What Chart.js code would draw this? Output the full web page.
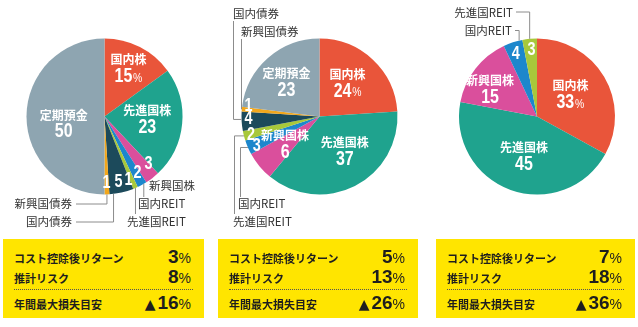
<!DOCTYPE html>
<html lang="ja">
<head>
<meta charset="utf-8">
<script src="https://cdn.jsdelivr.net/npm/chart.js@4.4.1/dist/chart.umd.min.js"></script>
<style>
    html, body { margin: 0; padding: 0; background: #fff; }
    #stage { position: relative; width: 638px; height: 327px; overflow: hidden; }
    #stage canvas { position: absolute; left: 0; top: 0; }
    .box { position: absolute; top: 239px; height: 79px; background: #ffe500; color: #1e1e1e;
           font-family: "Noto Sans CJK JP", sans-serif; }
    .row { position: absolute; left: 11px; right: 13px; height: 22px; display: flex;
           justify-content: space-between; align-items: baseline; }
    .row .lbl { font-size: 11px; font-weight: 700; }
    .row .val { font-family: "Liberation Sans", Arial, sans-serif; font-weight: 700; font-size: 19px; }
    .row .pct { font-size: 14px; font-weight: 400; }
    .row .tri { font-family: "DejaVu Sans", sans-serif; font-size: 14px; margin-right: 2px; }
    .dots { position: absolute; left: 11px; right: 11px; top: 50px; border-top: 1px dotted #555; }
</style>
</head>
<body>
<div id="stage">
    <canvas id="pieA" width="638" height="327"></canvas>
    <canvas id="pieB" width="638" height="327"></canvas>
    <canvas id="pieC" width="638" height="327"></canvas>
</div>
<script>
// --- data ---
const CATEGORIES = ['国内株', '先進国株', '新興国株', '国内REIT', '先進国REIT', '国内債券', '新興国債券', '定期預金'];
const PIE_A = [15, 23, 3, 2, 1, 5, 1, 50];
const PIE_B = [24, 37, 6, 3, 2, 4, 1, 23];
const PIE_C = [33, 45, 15, 4, 3, 0, 0, 0];

const BOX_LABELS = ['コスト控除後リターン', '推計リスク', '年間最大損失目安'];
const RETURNS = [3, 5, 7];
const RISKS = [8, 13, 18];
const MAX_LOSS = [16, 26, 36];

const COLORS = ['#e9553a', '#1fa38e', '#da4f9c', '#1d87cc', '#a8c83b', '#1c4a5b', '#f2a71c', '#8ea5b1'];

const NUM_FONT = '"Liberation Sans", Arial, sans-serif';
const JP_FONT = '"Noto Sans CJK JP", sans-serif';
const NUM_SQUEEZE = 0.8; // digits in the pies are a condensed face

// --- layout of each pie (center / radius in page px) and its labels ---
const PIES = [
    {
        id: 'pieA', values: PIE_A, cx: 104.5, cy: 116.5, r: 78,
        inside: ['full', 'full', 'num', 'num', 'num', 'num', 'num', 'full'],
        dist:   [0.70, 0.55, 0.83, 0.84, 0.87, 0.86, 0.85, 0.53],
        shift:  [-1, -2.4, -5, -1.5, 2.7, 0.6, 0.1, -9],
        outside: [
            { i: 2, x: 149, y: 186, align: 'left' },
            { i: 3, x: 138, y: 204, align: 'left', route: 'v', t: 0.3, ly: 197 },
            { i: 4, x: 127, y: 222, align: 'left', route: 'v', t: 0.5, ly: 214 },
            { i: 5, x: 72, y: 222, align: 'right', route: 'vh', t: 0.83, ly: 222, lx: 76 },
            { i: 6, x: 72, y: 204, align: 'right', route: 'vh', t: 0.5, ly: 204, lx: 76 }
        ]
    },
    {
        id: 'pieB', values: PIE_B, cx: 319.5, cy: 116.5, r: 78,
        inside: ['full', 'full', 'full', 'num', 'num', 'num', 'num', 'full'],
        dist:   [0.57, 0.54, 0.56, 0.89, 0.91, 0.91, 0.92, 0.62],
        shift:  [-4, -10, 1.6, -2, -1, 1.6, 3, -1.6],
        outside: [
            { i: 5, x: 233, y: 13.5, align: 'left', route: 'hv', t: 0.6, lx: 233.5, ly: 21 },
            { i: 6, x: 241, y: 31.5, align: 'left', route: 'hv', t: 0.5, lx: 241.5, ly: 39 },
            { i: 3, x: 238, y: 203.5, align: 'left', route: 'hv', t: 0.5, lx: 240.5, ly: 197 },
            { i: 4, x: 233, y: 222, align: 'left', route: 'hv', t: 0.5, lx: 234.5, ly: 214 }
        ]
    },
    {
        id: 'pieC', values: PIE_C, cx: 537, cy: 116.5, r: 78,
        inside: ['full', 'full', 'full', 'num', 'num', '', '', ''],
        dist:   [0.52, 0.53, 0.70, 0.85, 0.86, 0, 0, 0],
        shift:  [-4, -1.4, -7, -0.7, 0.8, 0, 0, 0],
        outside: [
            { i: 4, x: 513, y: 13, align: 'right', route: 'vh', t: 0.5, ly: 12, lx: 516 },
            { i: 3, x: 512, y: 31, align: 'right', route: 'vh', t: 0.83, ly: 30.5, lx: 515 }
        ]
    }
];

// draws slice labels and the leader lines for the small slices
const pieLabelPlugin = {
    id: 'pieLabels',
    afterDatasetsDraw(chart, args, opts) {
        const ctx = chart.ctx;
        const arcs = chart.getDatasetMeta(0).data;
        const values = chart.data.datasets[0].data;
        const labels = chart.data.labels;
        ctx.save();
        ctx.textBaseline = 'middle';

        arcs.forEach((arc, i) => {
            const mode = opts.inside[i];
            if (!values[i] || !mode) return;
            const p = arc.getProps(['x', 'y', 'startAngle', 'endAngle', 'outerRadius'], true);
            const a = (p.startAngle + p.endAngle) / 2 + opts.shift[i] * Math.PI / 180;
            const d = p.outerRadius * opts.dist[i];
            const x = p.x + Math.cos(a) * d;
            const y = p.y + Math.sin(a) * d;
            ctx.fillStyle = '#fff';
            if (mode === 'full') {
                ctx.font = 'bold 12px ' + JP_FONT;
                ctx.textAlign = 'center';
                ctx.fillText(labels[i], x, y - 8);
                drawNumber(ctx, values[i], i === 0 ? '%' : '', x, y + 9, 20);
            } else {
                drawNumber(ctx, values[i], '', x, y, 18);
            }
        });

        ctx.font = '11.5px ' + JP_FONT;
        ctx.strokeStyle = '#8c8c8c';
        ctx.lineWidth = 1;
        opts.outside.forEach(o => {
            ctx.fillStyle = '#333';
            ctx.textAlign = o.align;
            ctx.fillText(labels[o.i], o.x, o.y);
            if (!o.route) return;
            const p = arcs[o.i].getProps(['x', 'y', 'startAngle', 'endAngle', 'outerRadius'], true);
            const a = p.startAngle + (p.endAngle - p.startAngle) * o.t;
            const ax = p.x + Math.cos(a) * p.outerRadius;
            const ay = p.y + Math.sin(a) * p.outerRadius;
            ctx.beginPath();
            ctx.moveTo(ax, ay);
            if (o.route === 'v') {
                ctx.lineTo(ax, o.ly);
            } else if (o.route === 'vh') {
                ctx.lineTo(ax, o.ly);
                ctx.lineTo(o.lx, o.ly);
            } else {
                ctx.lineTo(o.lx, ay);
                ctx.lineTo(o.lx, o.ly);
            }
            ctx.stroke();
        });
        ctx.restore();
    }
};

// number (+ small suffix) centred on x, squeezed horizontally
function drawNumber(ctx, value, suffix, x, y, size) {
    const numFont = 'bold ' + size + 'px ' + NUM_FONT;
    const sufFont = Math.round(size * 0.65) + 'px ' + NUM_FONT;
    ctx.font = numFont;
    const w1 = ctx.measureText(String(value)).width;
    ctx.font = sufFont;
    const w2 = suffix ? ctx.measureText(suffix).width + 1 : 0;
    ctx.save();
    ctx.translate(x, y);
    ctx.scale(NUM_SQUEEZE, 1);
    const left = -(w1 + w2) / 2;
    ctx.textAlign = 'left';
    ctx.font = numFont;
    ctx.fillText(String(value), left, 0);
    if (suffix) {
        ctx.font = sufFont;
        ctx.fillText(suffix, left + w1 + 1, 1.5);
    }
    ctx.restore();
}

function renderPie(cfg) {
    const ctx = document.getElementById(cfg.id).getContext('2d');
    const W = 638, H = 327;
    new Chart(ctx, {
        type: 'pie',
        data: {
            labels: CATEGORIES,
            datasets: [{
                data: cfg.values,
                backgroundColor: COLORS,
                borderWidth: 0,
                hoverOffset: 0,
                offset: 0
            }]
        },
        options: {
            responsive: false,
            animation: false,
            events: [],
            layout: {
                padding: {
                    left: cfg.cx - cfg.r,
                    right: W - cfg.cx - cfg.r,
                    top: cfg.cy - cfg.r,
                    bottom: H - cfg.cy - cfg.r
                }
            },
            plugins: {
                legend: { display: false },
                tooltip: { enabled: false },
                pieLabels: { inside: cfg.inside, dist: cfg.dist, shift: cfg.shift, outside: cfg.outside }
            }
        },
        plugins: [pieLabelPlugin]
    });
}

// yellow summary boxes under each pie
function renderBoxes() {
    const stage = document.getElementById('stage');
    const boxes = [{ left: 3, width: 201 }, { left: 218, width: 200 }, { left: 436, width: 199 }];
    boxes.forEach((b, k) => {
        const el = document.createElement('div');
        el.className = 'box';
        el.style.left = b.left + 'px';
        el.style.width = b.width + 'px';
        el.innerHTML =
            `<div class="row" style="top:7px"><span class="lbl">${BOX_LABELS[0]}</span>` +
            `<span class="val">${RETURNS[k]}<span class="pct">%</span></span></div>` +
            `<div class="row" style="top:27px"><span class="lbl">${BOX_LABELS[1]}</span>` +
            `<span class="val">${RISKS[k]}<span class="pct">%</span></span></div>` +
            `<div class="dots"></div>` +
            `<div class="row" style="top:53px"><span class="lbl">${BOX_LABELS[2]}</span>` +
            `<span class="val"><span class="tri">▲</span>${MAX_LOSS[k]}<span class="pct">%</span></span></div>`;
        stage.appendChild(el);
    });
}

PIES.forEach(renderPie);
renderBoxes();
</script>
</body>
</html>
